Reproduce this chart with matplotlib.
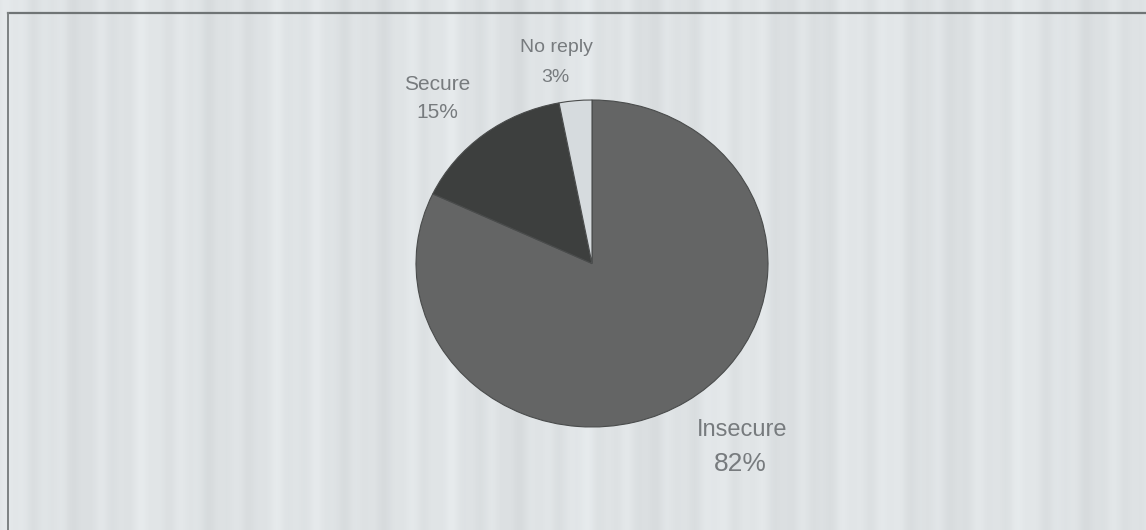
import numpy as np
import matplotlib
matplotlib.use("Agg")
import matplotlib.pyplot as plt

# Data
categories = ["Insecure", "Secure", "No reply"]
values = [82, 15, 3]
pct_labels = ["82%", "15%", "3%"]
colors = ["#646565", "#3d3f3e", "#d6dbde"]

W, H = 1146, 530
fig = plt.figure(figsize=(W / 100, H / 100), dpi=100)
fig.patch.set_facecolor("#dfe3e5")

# Background axes in pixel coordinates (y down)
bg = fig.add_axes([0, 0, 1, 1])
bg.set_xlim(0, W)
bg.set_ylim(H, 0)
bg.axis("off")

# subtle vertical scan stripes (deterministic)
xs = np.arange(W)
stripe = (0.013 * np.sin(xs / 7.0) + 0.011 * np.sin(xs / 23.0 + 1.3)
          + 0.008 * np.sin(xs / 3.1 + 0.4))
base = np.array([0.874, 0.890, 0.898])
img = np.clip(base[None, None, :] + stripe[None, :, None], 0, 1)
img = np.repeat(img, 2, axis=0)
bg.imshow(img, extent=[0, W, H, 0], aspect="auto", zorder=0)

# frame lines (top and left)
bg.plot([8, W], [13, 13], color="#6f7475", lw=1.6, zorder=1)
bg.plot([8, 8], [13, H], color="#7d8283", lw=1.4, zorder=1)

# Pie axes (slightly wider than tall, like the scan)
left, top, right, bottom = 416, 100, 768, 427
pax = fig.add_axes([left / W, (H - bottom) / H, (right - left) / W, (bottom - top) / H])
pax.pie(values, colors=colors, startangle=90, counterclock=False,
        wedgeprops=dict(edgecolor="#4a4c4c", linewidth=0.8))
pax.set_aspect("auto")
pax.set_xlim(-1.0, 1.0)
pax.set_ylim(-1.0, 1.0)
pax.axis("off")

# Labels
txt_color = "#777b7e"
label_pos = {
    "Insecure": ((742, 430), (740, 464), 17, 19),
    "Secure": ((437, 85), (437, 113), 15, 15),
    "No reply": ((556, 48), (555, 77), 14, 14),
}
for cat, pct in zip(categories, pct_labels):
    (x1, y1), (x2, y2), fs1, fs2 = label_pos[cat]
    bg.text(x1, y1, cat, ha="center", va="center", fontsize=fs1,
            color=txt_color, family="Liberation Sans", zorder=3)
    bg.text(x2, y2, pct, ha="center", va="center", fontsize=fs2,
            color=txt_color, family="Liberation Sans", zorder=3)

fig.savefig("out.png", dpi=100, facecolor=fig.get_facecolor())
